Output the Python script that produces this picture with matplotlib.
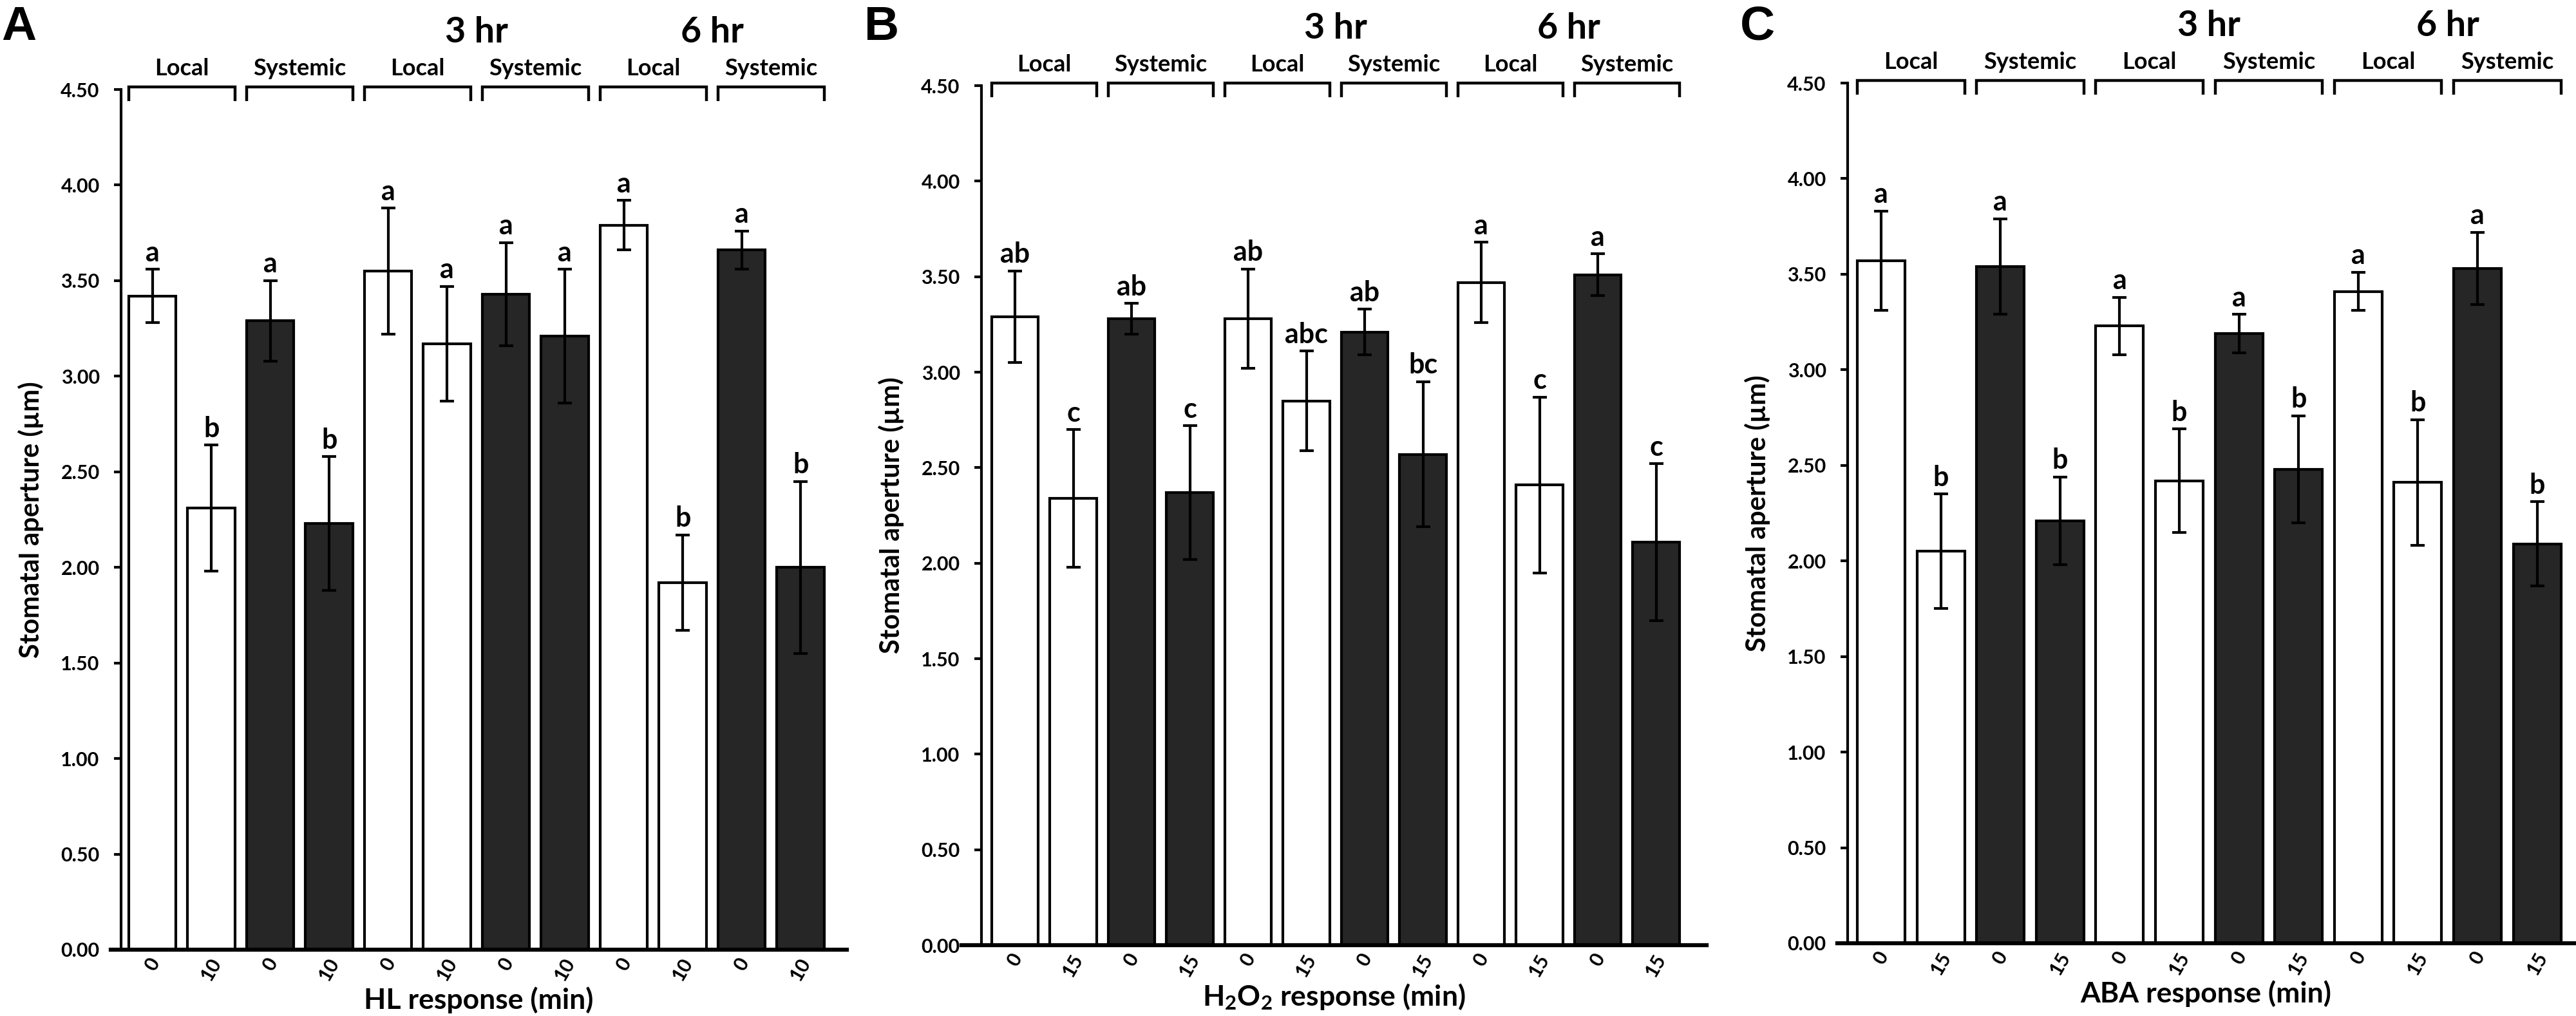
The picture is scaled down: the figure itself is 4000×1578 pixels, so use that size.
import numpy as np
import matplotlib
matplotlib.use("Agg")
import matplotlib.pyplot as plt

plt.rcParams['font.family'] = ['Lato', 'DejaVu Sans']
plt.rcParams['font.weight'] = 'bold'
plt.rcParams['axes.labelweight'] = 'bold'
plt.rcParams['mathtext.fontset'] = 'custom'
plt.rcParams['mathtext.rm'] = 'Lato:bold'
plt.rcParams['mathtext.it'] = 'Lato:bold'
plt.rcParams['mathtext.bf'] = 'Lato:bold'

# ---- data ----
tick_hl = ['0', '10'] * 6
tick_15 = ['0', '15'] * 6
groups = ['Local', 'Systemic'] * 3
times = ['3 hr', '6 hr']
is_dark = [False, False, True, True] * 3

hl_mean = [3.42, 2.31, 3.29, 2.23, 3.55, 3.17, 3.43, 3.21, 3.79, 1.92, 3.66, 2.00]
hl_err = [0.14, 0.33, 0.21, 0.35, 0.33, 0.30, 0.27, 0.35, 0.13, 0.25, 0.10, 0.45]
hl_letters = ['a', 'b', 'a', 'b', 'a', 'a', 'a', 'a', 'a', 'b', 'a', 'b']

h2o2_mean = [3.29, 2.34, 3.28, 2.37, 3.28, 2.85, 3.21, 2.57, 3.47, 2.41, 3.51, 2.11]
h2o2_err = [0.24, 0.36, 0.08, 0.35, 0.26, 0.26, 0.12, 0.38, 0.21, 0.46, 0.11, 0.41]
h2o2_letters = ['ab', 'c', 'ab', 'c', 'ab', 'abc', 'ab', 'bc', 'a', 'c', 'a', 'c']

aba_mean = [3.57, 2.05, 3.54, 2.21, 3.23, 2.42, 3.19, 2.48, 3.41, 2.41, 3.53, 2.09]
aba_err = [0.26, 0.30, 0.25, 0.23, 0.15, 0.27, 0.10, 0.28, 0.10, 0.33, 0.19, 0.22]
aba_letters = ['a', 'b', 'a', 'b', 'a', 'b', 'a', 'b', 'a', 'b', 'a', 'b']

W, H = 4000, 1578
fig = plt.figure(figsize=(W / 100, H / 100), dpi=100)

# panel layout in pixels: yaxis x, first bar centre, pitch, axes left, right, y(0), y(4.5), letter x
panels = [
    dict(name='A', mean=hl_mean, err=hl_err, letters=hl_letters, ticks=tick_hl,
         xlabel='HL response (min)', yaxis=188, c0=236.6, pitch=91.5,
         left=172, right=1315, y0=1475, y45=139, lx=2),
    dict(name='B', mean=h2o2_mean, err=h2o2_err, letters=h2o2_letters, ticks=tick_15,
         xlabel=r'H$_2$O$_2$ response (min)', yaxis=1524, c0=1576, pitch=90.5,
         left=1493, right=2650, y0=1468, y45=133, lx=1342),
    dict(name='C', mean=aba_mean, err=aba_err, letters=aba_letters, ticks=tick_15,
         xlabel='ABA response (min)', yaxis=2869, c0=2921, pitch=92.6,
         left=2853, right=3998, y0=1465, y45=129, lx=2702),
]

yt = np.arange(0, 4.51, 0.5)

for p in panels:
    ax = fig.add_axes([p['left'] / W, 1 - p['y0'] / H,
                       (p['right'] - p['left']) / W, (p['y0'] - p['y45']) / H])
    # spine position first: moving it resets the tick styling
    for s in ['top', 'right']:
        ax.spines[s].set_visible(False)
    ax.spines['left'].set_position(('data', (p['yaxis'] - p['c0']) / p['pitch']))
    ax.spines['left'].set_linewidth(3)
    ax.spines['bottom'].set_linewidth(4.5)
    ax.spines['bottom'].set_zorder(4)

    x = np.arange(12)
    colors = ['#262626' if d else 'white' for d in is_dark]
    ax.bar(x, p['mean'], width=0.8, color=colors, edgecolor='black', linewidth=3, zorder=2)
    ax.errorbar(x, p['mean'], yerr=p['err'], fmt='none', ecolor='black',
                elinewidth=3, capsize=8, capthick=3, zorder=3)
    for xi, m, e, t in zip(x, p['mean'], p['err'], p['letters']):
        ax.annotate(t, (xi, m + e), xytext=(0, 9), textcoords='offset points',
                    ha='center', va='baseline', fontsize=31, fontweight='bold')

    ax.set_xlim((p['left'] - p['c0']) / p['pitch'], (p['right'] - p['c0']) / p['pitch'])
    ax.set_ylim(0, 4.5)
    ax.set_yticks(yt)
    ax.set_yticklabels([f'{v:.2f}' for v in yt])
    ax.set_xticks(x)
    ax.set_xticklabels(p['ticks'], rotation=60, ha='center')
    ax.tick_params(axis='x', length=0, pad=6, labelsize=22)
    ax.tick_params(axis='y', length=8, width=3, direction='out', pad=16, labelsize=22)

    ax.set_xlabel(p['xlabel'], fontsize=32)
    ax.xaxis.set_label_coords(0.5, -0.043)
    ax.xaxis.label.set_va('top')
    ylab_x = (p['yaxis'] - 140 - p['left']) / (p['right'] - p['left'])
    ax.text(ylab_x, 0.5, 'Stomatal aperture (µm)', rotation=90, ha='center', va='center',
            fontsize=30, transform=ax.transAxes)

    # brackets with Local / Systemic labels
    for k in range(6):
        x0, x1 = 2 * k - 0.4, 2 * k + 1.4
        ax.plot([x0, x0, x1, x1], [4.44, 4.515, 4.515, 4.44], color='black', lw=3.2,
                clip_on=False, solid_joinstyle='miter', solid_capstyle='butt')
        ax.text((x0 + x1) / 2, 4.61, groups[k], ha='center', va='center', fontsize=26)
    for k, t in enumerate(times):
        ax.text(5.5 + 4 * k, 4.80, t, ha='center', va='center', fontsize=40)

    fig.text(p['lx'] / W, 1 - 8 / H, p['name'], ha='left', va='top', fontsize=54,
             fontweight='bold', family=['Liberation Sans', 'DejaVu Sans'])

fig.savefig('out.png', dpi=100, facecolor='white')
